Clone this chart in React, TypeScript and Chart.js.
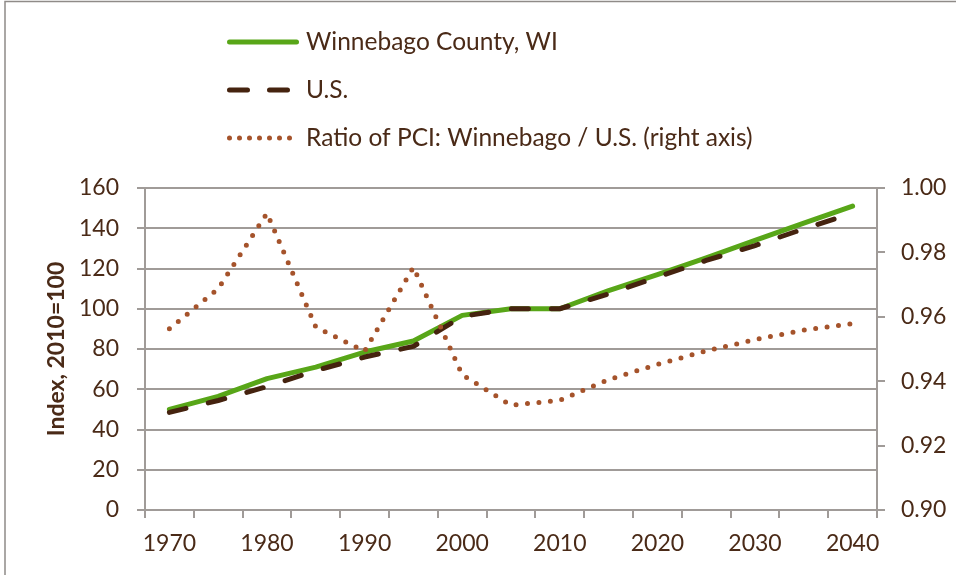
import React, { useEffect, useRef } from 'react';
import { Chart, registerables } from 'chart.js';

Chart.register(...registerables);

// ---- Data ----
const years = ['1970', '1975', '1980', '1985', '1990', '1995', '2000', '2005', '2010', '2015', '2020', '2025', '2030', '2035', '2040'];
const xTickLabels = ['1970', '', '1980', '', '1990', '', '2000', '', '2010', '', '2020', '', '2030', '', '2040'];
const winnebago = [50, 56.5, 65.3, 71, 78.5, 84, 96.7, 100, 100, 109, 117, 125.3, 134, 142.5, 151];
const usIndex = [48.5, 54.4, 61.3, 69.3, 76, 81.3, 96.2, 100, 100, 107.4, 115.7, 124, 131.4, 139.7, 147.5];
const pciRatio = [0.9563, 0.9687, 0.9922, 0.9568, 0.9493, 0.9754, 0.942, 0.9325, 0.9341, 0.9405, 0.9452, 0.9494, 0.9529, 0.9559, 0.9579];

const seriesLabels = ['Winnebago County, WI', 'U.S.', 'Ratio of PCI: Winnebago / U.S. (right axis)'];
const leftAxisTitle = 'Index, 2010=100';

const TEXT = '#4a2a17';
const GRID = '#a09b98';
const FONT = 'Lato';

const legendPlugin = {
  id: 'stackedLegend',
  afterDraw(chart: any) {
    const ctx = chart.ctx as CanvasRenderingContext2D;
    ctx.save();
    chart.data.datasets.forEach((ds: any, i: number) => {
      const y = 42 + i * 48;
      ctx.beginPath();
      ctx.strokeStyle = ds.borderColor;
      ctx.lineWidth = ds.borderWidth;
      ctx.lineCap = ds.borderCapStyle || 'butt';
      ctx.setLineDash(ds.legendDash || []);
      ctx.moveTo(229.5, y);
      ctx.lineTo(296.5, y);
      ctx.stroke();
      ctx.setLineDash([]);
      ctx.fillStyle = TEXT;
      ctx.font = `24.5px ${FONT}`;
      ctx.textBaseline = 'middle';
      ctx.textAlign = 'left';
      ctx.fillText(ds.label, 306, y);
    });
    ctx.strokeStyle = '#8f8b88';
    ctx.lineWidth = 1.5;
    ctx.strokeRect(5, 1.5, 1200, 1200);
    ctx.restore();
  },
};

export default function App() {
  const ref = useRef<HTMLCanvasElement | null>(null);

  useEffect(() => {
    if (!ref.current) return;
    const chart = new Chart(ref.current, {
      type: 'line',
      data: {
        labels: years,
        datasets: [
          {
            label: seriesLabels[0],
            data: winnebago,
            yAxisID: 'y',
            borderColor: '#58a618',
            borderWidth: 5,
            borderCapStyle: 'round',
            borderJoinStyle: 'round',
            pointRadius: 0,
            tension: 0,
            order: 3,
            legendDash: [],
          } as any,
          {
            label: seriesLabels[1],
            data: usIndex,
            yAxisID: 'y',
            borderColor: '#45230f',
            borderWidth: 5,
            borderDash: [17, 23],
            borderCapStyle: 'round',
            borderJoinStyle: 'round',
            pointRadius: 0,
            tension: 0,
            order: 2,
            legendDash: [18, 22],
          } as any,
          {
            label: seriesLabels[2],
            data: pciRatio,
            yAxisID: 'y2',
            borderColor: '#a5532b',
            borderWidth: 5,
            borderDash: [0, 11.5],
            borderCapStyle: 'round',
            borderJoinStyle: 'round',
            pointRadius: 0,
            tension: 0,
            order: 1,
            legendDash: [0, 10],
          } as any,
        ],
      },
      options: {
        responsive: false,
        animation: false,
        layout: { padding: { top: 188, left: 0, right: 0, bottom: 0 } },
        plugins: {
          legend: { display: false },
          tooltip: { enabled: false },
        },
        scales: {
          x: {
            type: 'category',
            offset: true,
            grid: {
              display: true,
              drawOnChartArea: false,
              drawTicks: true,
              tickLength: 8,
              offset: true,
              color: GRID,
              lineWidth: 2,
            },
            border: { display: true, color: GRID, width: 2 },
            ticks: {
              autoSkip: false,
              maxRotation: 0,
              minRotation: 0,
              padding: 12,
              color: TEXT,
              font: { family: FONT, size: 23 },
              callback: (_v: any, i: number) => xTickLabels[i],
            },
            afterFit: (s: any) => {
              s.height = 65;
            },
          },
          y: {
            position: 'left',
            min: 0,
            max: 160,
            ticks: {
              stepSize: 20,
              padding: 18,
              color: TEXT,
              font: { family: FONT, size: 23 },
            },
            grid: { color: GRID, lineWidth: 2, tickLength: 8 },
            border: { color: GRID, width: 2 },
            title: {
              display: true,
              text: leftAxisTitle,
              color: TEXT,
              font: { family: FONT, size: 23, weight: 'bold' },
              padding: { top: 43, bottom: 0 },
            },
            afterFit: (s: any) => {
              s.width = 145;
            },
          },
          y2: {
            position: 'right',
            min: 0.9,
            max: 1.0,
            ticks: {
              stepSize: 0.02,
              padding: 16,
              color: TEXT,
              font: { family: FONT, size: 23 },
              callback: (v: any) => Number(v).toFixed(2),
            },
            grid: { drawOnChartArea: false, color: GRID, lineWidth: 2, tickLength: 8 },
            border: { color: GRID, width: 2 },
            afterFit: (s: any) => {
              s.width = 79;
            },
          },
        },
      } as any,
      plugins: [legendPlugin],
    });
    return () => chart.destroy();
  }, []);

  return (
    <div style={{ position: 'fixed', left: 0, top: 0, width: 956, height: 575, background: '#ffffff' }}>
      <canvas ref={ref} width={956} height={575} style={{ width: 956, height: 575, display: 'block' }} />
    </div>
  );
}
